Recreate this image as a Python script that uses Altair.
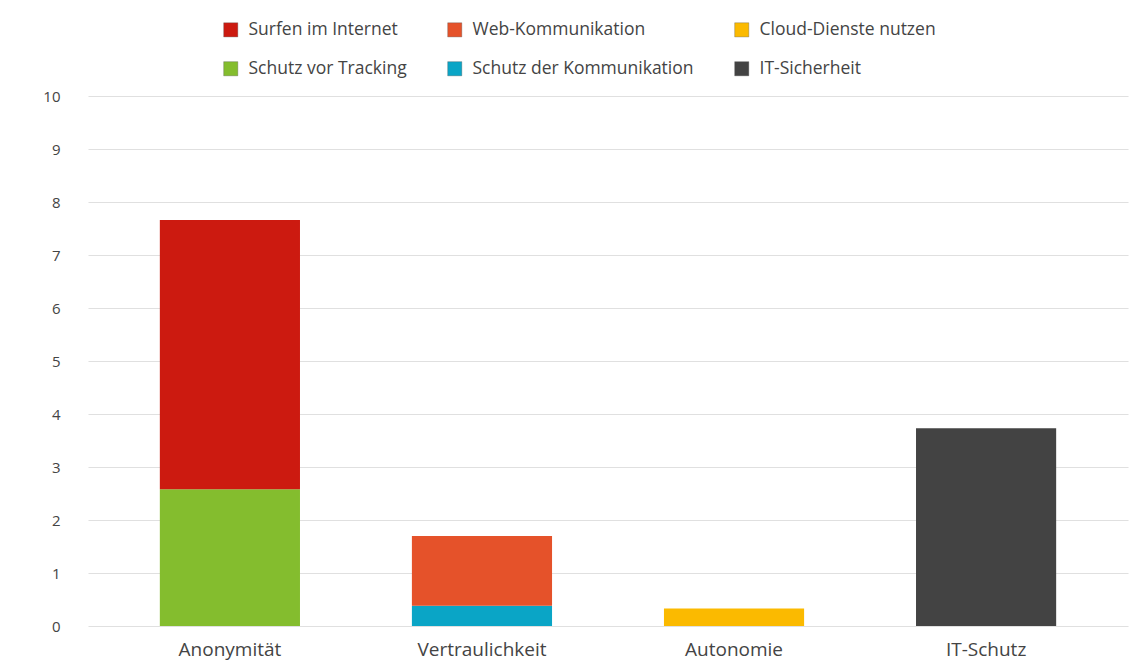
import altair as alt
import pandas as pd

categories = ["Anonymität", "Anonymität", "Vertraulichkeit", "Vertraulichkeit", "Autonomie", "IT-Schutz"]
series = ["Schutz vor Tracking", "Surfen im Internet", "Schutz der Kommunikation", "Web-Kommunikation", "Cloud-Dienste nutzen", "IT-Sicherheit"]
values = [2.58, 5.08, 0.38, 1.32, 0.33, 3.73]
stack_order = [0, 1, 0, 1, 0, 0]

legend_order = ["Surfen im Internet", "Web-Kommunikation", "Cloud-Dienste nutzen",
                "Schutz vor Tracking", "Schutz der Kommunikation", "IT-Sicherheit"]
legend_colors = ["#CC1A10", "#E5522A", "#FBBA00", "#84BD2E", "#0AA5C6", "#434343"]
x_order = ["Anonymität", "Vertraulichkeit", "Autonomie", "IT-Schutz"]

df = pd.DataFrame({"Kategorie": categories, "Serie": series, "Wert": values, "o": stack_order})

FONT = "Open Sans"

chart = alt.Chart(df).mark_bar().encode(
    x=alt.X("Kategorie:N", sort=x_order,
            scale=alt.Scale(paddingInner=0.444, paddingOuter=0.285),
            axis=alt.Axis(title=None, labelAngle=0, labelFontSize=19, labelColor="#444444",
                          labelFont=FONT, labelPadding=14, ticks=False, domain=False, grid=False)),
    y=alt.Y("Wert:Q", stack="zero",
            scale=alt.Scale(domain=[0, 10], nice=False),
            axis=alt.Axis(title=None, values=list(range(0, 11)), labelFontSize=15, labelColor="#444444",
                          labelFont=FONT, labelPadding=28, ticks=False, domain=False,
                          gridColor="#E0E0E0", gridWidth=1.2)),
    color=alt.Color("Serie:N",
                    scale=alt.Scale(domain=legend_order, range=legend_colors),
                    legend=alt.Legend(title=None, orient="none", legendX=134, legendY=-75,
                                      columns=3, direction="horizontal", symbolType="square",
                                      symbolSize=200, symbolStrokeWidth=1, symbolStrokeColor="#55555555",
                                      labelFontSize=17.5, labelLimit=400,
                                      labelFont=FONT, labelColor="#444444", columnPadding=38,
                                      rowPadding=20, labelOffset=9)),
    order=alt.Order("o:Q", sort="ascending"),
).properties(
    width=1040, height=530,
    autosize=alt.AutoSizeParams(type="none"),
    padding={"left": 88, "top": 96, "right": 4, "bottom": 35},
).configure(background="white").configure_view(stroke="transparent", strokeWidth=0)

chart.save("out.html", embed_options={"renderer": "svg", "actions": False})
